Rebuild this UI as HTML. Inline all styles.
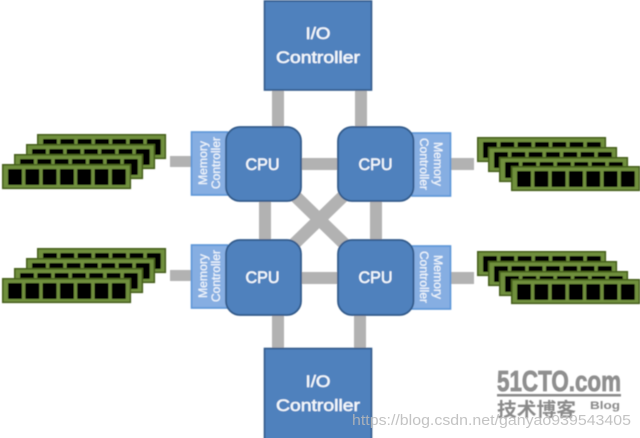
<!DOCTYPE html>
<html>
<head>
<meta charset="utf-8">
<style>
html,body{margin:0;padding:0;background:#fff;width:640px;height:438px;overflow:hidden}
svg{display:block}
text{font-family:"Liberation Sans","Noto Sans CJK SC",sans-serif}
</style>
</head>
<body>
<svg width="640" height="438" viewBox="0 0 640 438" xmlns="http://www.w3.org/2000/svg">
<defs>
<filter id="b" x="-5%" y="-5%" width="110%" height="110%"><feGaussianBlur stdDeviation="0.4"/></filter>
<g id="d">
<rect x="0.8" y="0.8" width="127.5" height="23.5" fill="#6f8f3c" stroke="#46601f" stroke-width="1.6"/>
<rect x="6" y="5" width="14" height="16" rx="1" fill="#060606"/>
<rect x="23.3" y="5" width="14" height="16" rx="1" fill="#060606"/>
<rect x="40.6" y="5" width="14" height="16" rx="1" fill="#060606"/>
<rect x="57.9" y="5" width="14" height="16" rx="1" fill="#060606"/>
<rect x="75.2" y="5" width="14" height="16" rx="1" fill="#060606"/>
<rect x="92.5" y="5" width="14" height="16" rx="1" fill="#060606"/>
<rect x="109.8" y="5" width="14" height="16" rx="1" fill="#060606"/>
</g>
</defs>
<g filter="url(#b)">
<!-- connectors -->
<g fill="#b2b2b2">
<rect x="272" y="90" width="12" height="38"/>
<rect x="355" y="90" width="12" height="38"/>
<rect x="272" y="314" width="12" height="35"/>
<rect x="354" y="314" width="12" height="35"/>
<rect x="259" y="200" width="12" height="40"/>
<rect x="370" y="200" width="12" height="40"/>
<rect x="300" y="158" width="39" height="12"/>
<rect x="300" y="272" width="39" height="12"/>
<rect x="170" y="156" width="22" height="11"/>
<rect x="170" y="270" width="22" height="11"/>
<rect x="450" y="158" width="24" height="12"/>
<rect x="450" y="272" width="24" height="12"/>
</g>
<g stroke="#b2b2b2" stroke-width="12.5">
<line x1="292.5" y1="193.5" x2="346" y2="245.5"/>
<line x1="346" y1="193.5" x2="292.5" y2="245.5"/>
</g>
<!-- DIMMs left top -->
<use href="#d" x="37" y="134"/><use href="#d" x="26" y="144"/><use href="#d" x="14" y="154"/><use href="#d" x="2" y="164"/>
<!-- DIMMs left bottom -->
<use href="#d" x="37" y="248"/><use href="#d" x="26" y="258"/><use href="#d" x="14" y="268"/><use href="#d" x="2" y="278"/>
<!-- DIMMs right top -->
<use href="#d" x="477" y="137"/><use href="#d" x="488" y="147"/><use href="#d" x="499" y="157"/><use href="#d" x="511" y="166"/>
<!-- DIMMs right bottom -->
<use href="#d" x="477" y="251"/><use href="#d" x="488" y="261"/><use href="#d" x="499" y="271"/><use href="#d" x="511" y="279"/>
<!-- memory controllers -->
<g fill="#86aee2" stroke="#5b95d8" stroke-width="1.6">
<rect x="191.5" y="132" width="36" height="63"/>
<rect x="191.5" y="245" width="36" height="63"/>
<rect x="412" y="133" width="38.5" height="63"/>
<rect x="412" y="246" width="38.5" height="63"/>
</g>
<!-- CPUs -->
<g fill="#4f81bd" stroke="#335a8a" stroke-width="1.8">
<rect x="226" y="127" width="75" height="74" rx="14"/>
<rect x="338" y="127" width="75.5" height="74" rx="14"/>
<rect x="226" y="240" width="75" height="75" rx="14"/>
<rect x="338" y="240" width="75.5" height="75" rx="14"/>
</g>
<!-- I/O -->
<g fill="#4f81bd" stroke="#335a8a" stroke-width="1.6">
<rect x="264.5" y="1" width="107" height="89"/>
<rect x="264.5" y="348.5" width="107" height="92"/>
</g>
<!-- labels -->
<g fill="#fff" text-anchor="middle">
<g font-size="17" fill="#f4f8fc" stroke="#f4f8fc" stroke-width="0.45">
<text x="262.5" y="170" textLength="34" lengthAdjust="spacingAndGlyphs">CPU</text>
<text x="375.5" y="170" textLength="34" lengthAdjust="spacingAndGlyphs">CPU</text>
<text x="262.5" y="283" textLength="34" lengthAdjust="spacingAndGlyphs">CPU</text>
<text x="375.5" y="283" textLength="34" lengthAdjust="spacingAndGlyphs">CPU</text>
<text x="318" y="39" textLength="25" lengthAdjust="spacingAndGlyphs">I/O</text>
<text x="318" y="63" textLength="84" lengthAdjust="spacingAndGlyphs">Controller</text>
<text x="318" y="387" textLength="25" lengthAdjust="spacingAndGlyphs">I/O</text>
<text x="318" y="411" textLength="84" lengthAdjust="spacingAndGlyphs">Controller</text>
</g>
<g font-size="11.5" fill="#f0f5fb" stroke="#f0f5fb" stroke-width="0.25">
<text transform="translate(207,163) rotate(-90)" textLength="44" lengthAdjust="spacingAndGlyphs">Memory</text>
<text transform="translate(220,163) rotate(-90)" textLength="52" lengthAdjust="spacingAndGlyphs">Controller</text>
<text transform="translate(207,276) rotate(-90)" textLength="44" lengthAdjust="spacingAndGlyphs">Memory</text>
<text transform="translate(220,276) rotate(-90)" textLength="52" lengthAdjust="spacingAndGlyphs">Controller</text>
<text transform="translate(434,164) rotate(90)" textLength="44" lengthAdjust="spacingAndGlyphs">Memory</text>
<text transform="translate(420,164) rotate(90)" textLength="52" lengthAdjust="spacingAndGlyphs">Controller</text>
<text transform="translate(434,277) rotate(90)" textLength="44" lengthAdjust="spacingAndGlyphs">Memory</text>
<text transform="translate(420,277) rotate(90)" textLength="52" lengthAdjust="spacingAndGlyphs">Controller</text>
</g>
</g>
<!-- watermark logo -->
<text x="497" y="391" font-size="29" font-weight="bold" fill="#8f8f8f" stroke="#8f8f8f" stroke-width="0.8" textLength="124" lengthAdjust="spacingAndGlyphs">51CTO.com</text>
<rect x="497" y="394" width="124" height="2.5" fill="#8a8a8a"/>
<text x="497" y="416" font-size="19" font-weight="bold" fill="#8a8a8a" textLength="79" lengthAdjust="spacingAndGlyphs">技术博客</text>
<text x="590" y="409" font-size="11" font-weight="bold" fill="#8a8a8a" textLength="30" lengthAdjust="spacingAndGlyphs">Blog</text>
</g>
<text x="352" y="425" font-size="14.5" fill="#b9b9b9" fill-opacity="0.85" textLength="279" lengthAdjust="spacingAndGlyphs">https://blog.csdn.net/ganyao939543405</text>
</svg>
</body>
</html>
